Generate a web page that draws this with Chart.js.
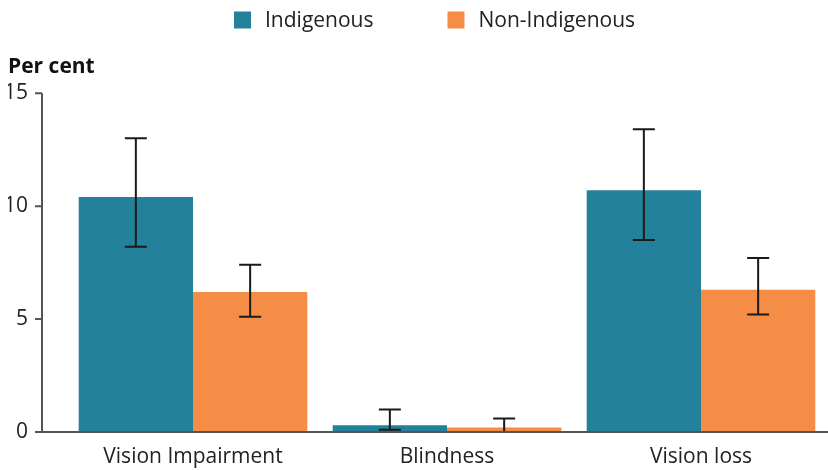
<!DOCTYPE html>
<html>
<head>
<meta charset="utf-8">
<script src="https://cdn.jsdelivr.net/npm/chart.js@4/dist/chart.umd.min.js"></script>
<style>
  html, body { margin: 0; padding: 0; background: #fff; overflow: hidden; }
  canvas { display: block; }
</style>
</head>
<body>
<canvas id="c" width="828" height="470"></canvas>
<script>
// Vision impairment, blindness and vision loss by Indigenous status (per cent, with 95% CIs)
const categories = ['Vision Impairment', 'Blindness', 'Vision loss'];
const seriesNames = ['Indigenous', 'Non-Indigenous'];

const indigenous     = [10.4, 0.3, 10.7];
const indigenousLow  = [8.2, 0.1, 8.5];
const indigenousHigh = [13.0, 1.0, 13.4];

const nonIndigenous     = [6.2, 0.2, 6.3];
const nonIndigenousLow  = [5.1, 0.0, 5.2];
const nonIndigenousHigh = [7.4, 0.6, 7.7];

const yTicks = [0, 5, 10, 15];

const TEAL = '#23819B';
const ORANGE = '#F68D46';
const AXIS = '#555555';
const TEXT = '#222222';
const FONT = "'Open Sans', 'Noto Sans', sans-serif";

// Confidence interval whiskers drawn on top of each bar
const errorBars = {
  id: 'errorBars',
  afterDatasetsDraw(chart) {
    const ctx = chart.ctx;
    const y = chart.scales.y;
    const ranges = [[indigenousLow, indigenousHigh], [nonIndigenousLow, nonIndigenousHigh]];
    ctx.save();
    ctx.strokeStyle = '#1a1a1a';
    ctx.lineWidth = 2;
    chart.data.datasets.forEach((ds, di) => {
      const meta = chart.getDatasetMeta(di);
      meta.data.forEach((bar, i) => {
        const lo = y.getPixelForValue(ranges[di][0][i]);
        const hi = y.getPixelForValue(ranges[di][1][i]);
        const cap = 11;
        ctx.beginPath();
        ctx.moveTo(bar.x, lo); ctx.lineTo(bar.x, hi);
        ctx.moveTo(bar.x - cap, lo); ctx.lineTo(bar.x + cap, lo);
        ctx.moveTo(bar.x - cap, hi); ctx.lineTo(bar.x + cap, hi);
        ctx.stroke();
      });
    });
    ctx.restore();
  }
};

// Detached vertical axis with outward ticks, plus the baseline
const axisLines = {
  id: 'axisLines',
  afterDatasetsDraw(chart) {
    const ctx = chart.ctx;
    const area = chart.chartArea;
    const y = chart.scales.y;
    const axisX = area.left - 24;
    const tick = 7;
    ctx.save();
    ctx.strokeStyle = AXIS;
    ctx.lineWidth = 2;
    ctx.beginPath();
    ctx.moveTo(axisX, y.getPixelForValue(yTicks[yTicks.length - 1]));
    ctx.lineTo(axisX, y.getPixelForValue(0));
    yTicks.forEach(v => {
      const py = y.getPixelForValue(v);
      ctx.moveTo(axisX - tick, py); ctx.lineTo(axisX, py);
    });
    const base = y.getPixelForValue(0);
    ctx.moveTo(axisX - tick, base); ctx.lineTo(area.right, base);
    ctx.stroke();
    ctx.restore();
  }
};

// Legend row across the top
const topLegend = {
  id: 'topLegend',
  afterDraw(chart) {
    const ctx = chart.ctx;
    const box = 17, gapText = 14, gapItem = 74;
    const cy = 20;
    ctx.save();
    ctx.font = `21px ${FONT}`;
    ctx.textBaseline = 'middle';
    ctx.textAlign = 'left';
    let x = 234;
    chart.data.datasets.forEach(ds => {
      ctx.fillStyle = ds.backgroundColor;
      ctx.fillRect(x, cy - 8.5, box, box);
      ctx.fillStyle = TEXT;
      ctx.fillText(ds.label, x + box + gapText, cy + 1);
      x += box + gapText + ctx.measureText(ds.label).width + gapItem;
    });
    ctx.restore();
  }
};

new Chart(document.getElementById('c'), {
  type: 'bar',
  data: {
    labels: categories,
    datasets: [
      { label: seriesNames[0], data: indigenous, backgroundColor: TEAL },
      { label: seriesNames[1], data: nonIndigenous, backgroundColor: ORANGE }
    ]
  },
  options: {
    responsive: false,
    animation: false,
    devicePixelRatio: 1,
    layout: { padding: { top: 44, left: 8, right: 0, bottom: 1 } },
    datasets: { bar: { categoryPercentage: 0.9, barPercentage: 1.0 } },
    plugins: {
      legend: { display: false },
      tooltip: { enabled: false },
      title: {
        display: true,
        text: 'Per cent',
        align: 'start',
        color: '#111',
        font: { family: FONT, size: 21, weight: 'bold' },
        padding: { top: 10, bottom: 14 }
      }
    },
    scales: {
      x: {
        afterFit(scale) { scale.height = 37; },
        grid: { display: false, drawTicks: false },
        border: { display: false },
        ticks: { color: TEXT, font: { family: FONT, size: 21 }, padding: 12, maxRotation: 0 }
      },
      y: {
        min: 0, max: 15,
        afterFit(scale) {
          scale.width = 58;
          scale.paddingTop = 13;
          scale.paddingBottom = 13;
        },
        afterBuildTicks(scale) { scale.ticks = yTicks.map(v => ({ value: v })); },
        grid: { display: false, drawTicks: false },
        border: { display: false },
        ticks: { color: TEXT, font: { family: FONT, size: 21 }, padding: 38 }
      }
    }
  },
  plugins: [errorBars, axisLines, topLegend]
});
</script>
</body>
</html>
